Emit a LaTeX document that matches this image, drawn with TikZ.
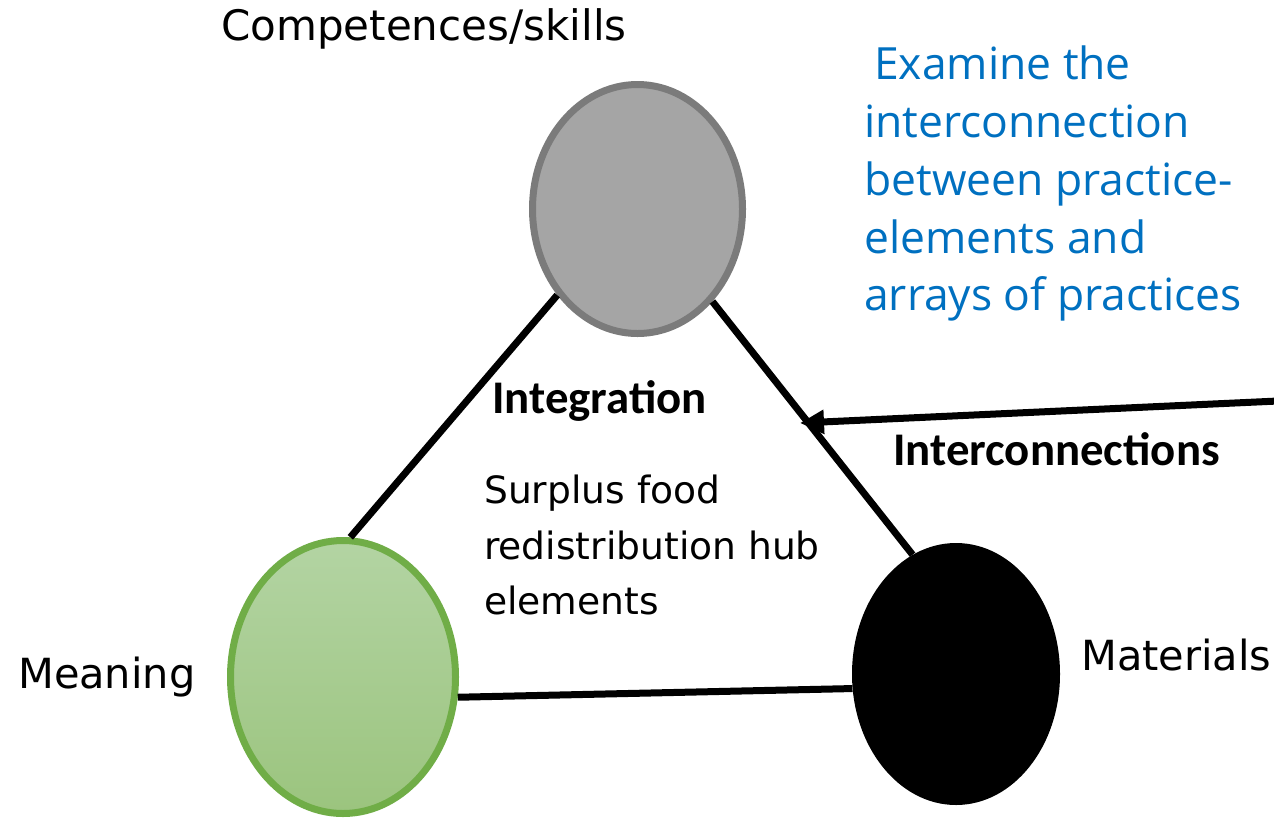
\documentclass[tikz,border=0pt]{standalone}
\usepackage{fontspec}
\setmainfont{DejaVu Sans}
\newfontfamily\headfont{Carlito}
\newfontfamily\notefont{Open Sans}
\usetikzlibrary{shapes.geometric,arrows.meta}

\definecolor{compfill}{HTML}{A5A5A5}
\definecolor{compline}{HTML}{7B7B7B}
\definecolor{meantop}{HTML}{B3D4A3}
\definecolor{meanbot}{HTML}{9BC47E}
\definecolor{meanline}{HTML}{70AD47}
\definecolor{noteblue}{HTML}{0070C0}

\tikzset{
  element/.style={ellipse, inner sep=0pt},
  link/.style={line width=7pt, black},
  label/.style={anchor=base west, inner sep=0pt, font=\fontsize{42}{48}\selectfont},
  biglabel/.style={anchor=base west, inner sep=0pt, font=\fontsize{41.5}{48}\selectfont},
  heading/.style={anchor=base west, inner sep=0pt, font=\headfont\bfseries\fontsize{46.8}{54}\selectfont},
  note/.style={anchor=base west, inner sep=0pt, text=noteblue, font=\notefont\fontsize{44.4}{56}\selectfont},
  body/.style={anchor=base west, inner sep=0pt, font=\fontsize{37.6}{44}\selectfont}
}

\begin{document}
\begin{tikzpicture}[x=1pt,y=-1pt]
\useasboundingbox (0,0) rectangle (1274,823);

% the three practice elements
\node[element, draw=compline, fill=compfill, line width=7pt,
      minimum width=210pt, minimum height=249pt] (comp) at (637.5,209) {};
\node[element, draw=meanline, top color=meantop, bottom color=meanbot, line width=7pt,
      minimum width=225pt, minimum height=273pt] (mean) at (343,677) {};
\node[element, fill=black, minimum width=208pt, minimum height=262pt] (mat) at (956,674) {};

% links between the elements
\draw[link] (comp.227.7) -- (mean.87.8);
\draw[link] (comp.309.7) -- (mat.110);
\draw[link] (mean.350.4) -- (mat.188.1);

% interconnection arrow coming in from the right
\coordinate (arrstart) at (1278,401);
\coordinate (arrtip) at (800,423);
\draw[line width=7pt, -{Triangle[length=24pt,width=23pt]}] (arrstart) -- (arrtip);

% element labels
\node[label] (complbl) at (221,40) {Competences/skills};
\node[biglabel] (meanlbl) at (18,688) {Meaning};
\node[biglabel] (matlbl) at (1081,670) {Materials};

% headings
\node[heading] (integ) at (492,413) {Integration};
\node[heading] (inter) at (893,465) {Interconnections};

% hub description
\node[body] (hub1) at (484,503) {Surplus food};
\node[body] (hub2) at (484,559) {redistribution hub};
\node[body] (hub3) at (484,614) {elements};

% research note
\node[note] (note1) at (874,79) {Examine the};
\node[note] (note2) at (864,137) {interconnection};
\node[note] (note3) at (864,195) {between practice-};
\node[note] (note4) at (864,253) {elements and};
\node[note] (note5) at (864,310) {arrays of practices};
\end{tikzpicture}
\end{document}
